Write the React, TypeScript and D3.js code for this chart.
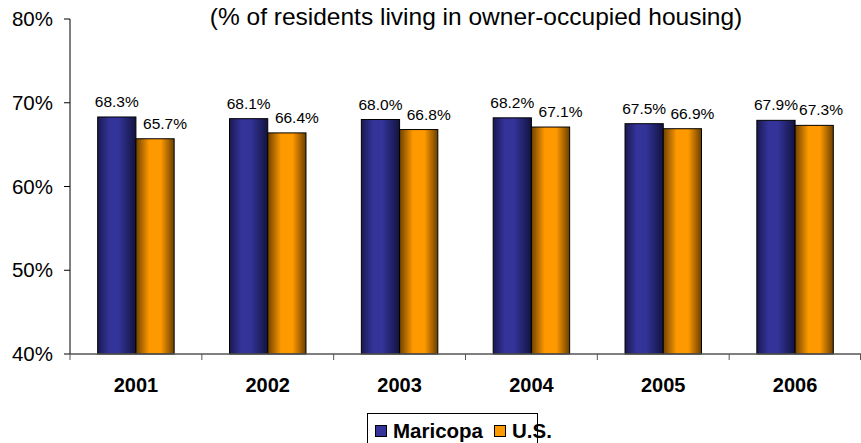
import React from "react";
import * as d3 from "d3";

const years = ["2001", "2002", "2003", "2004", "2005", "2006"];
const maricopa = [68.3, 68.1, 68.0, 68.2, 67.5, 67.9];
const us = [65.7, 66.4, 66.8, 67.1, 66.9, 67.3];
const seriesNames = ["Maricopa", "U.S."];
const yTicks = [40, 50, 60, 70, 80];
const title = "(% of residents living in owner-occupied housing)";

const W = 861;
const H = 443;
const FONT = "'Liberation Sans', Arial, Helvetica, sans-serif";

export default function App() {
  const left = 70;
  const right = 861;
  const top = 19;
  const bottom = 354;

  const x0 = d3.scaleBand<string>().domain(years).range([left, right]).paddingInner(0).paddingOuter(0);
  const y = d3.scaleLinear().domain([40, 80]).range([bottom, top]);

  const groupW = x0.bandwidth() * 0.58;
  const groupOff = (x0.bandwidth() - groupW) / 2;
  const barW = groupW / 2;

  const data = years.map((yr, i) => ({ yr, vals: [maricopa[i], us[i]] }));
  const fills = ["url(#gBlue)", "url(#gOrange)"];
  const legendColors = ["#333399", "#FF9900"];

  return (
    <svg width={W} height={H} style={{ position: "absolute", left: 0, top: 0, background: "#fff" }} fontFamily={FONT}>
      <defs>
        <linearGradient id="gBlue" x1="0" x2="1" y1="0" y2="0">
          <stop offset="0" stopColor="#1a1a50" />
          <stop offset="0.3" stopColor="#333399" />
          <stop offset="0.55" stopColor="#333399" />
          <stop offset="1" stopColor="#131340" />
        </linearGradient>
        <linearGradient id="gOrange" x1="0" x2="1" y1="0" y2="0">
          <stop offset="0" stopColor="#6e4200" />
          <stop offset="0.35" stopColor="#FF9900" />
          <stop offset="0.65" stopColor="#FF9900" />
          <stop offset="1" stopColor="#6a3f00" />
        </linearGradient>
      </defs>

      <text x={476} y={25} textAnchor="middle" fontSize={24.5} fill="#000">{title}</text>

      {data.map((d) =>
        d.vals.map((v, s) => {
          const bx = (x0(d.yr) as number) + groupOff + s * barW;
          const by = y(v);
          const cx = bx + barW / 2;
          let lx = cx + (s === 1 ? 10 : 0);
          if (lx + 22 > 843) lx = 843 - 22;
          return (
            <g key={d.yr + s}>
              <rect x={bx} y={by} width={barW} height={bottom - by} fill={fills[s]} stroke="#000" strokeWidth={1} />
              <text x={lx} y={by - 10} textAnchor="middle" fontSize={15.5} fill="#000">{v.toFixed(1)}%</text>
            </g>
          );
        })
      )}

      {/* y axis */}
      <line x1={left} x2={left} y1={top} y2={bottom} stroke="#000" strokeWidth={1} />
      {yTicks.map((t) => (
        <g key={t}>
          <line x1={left - 6} x2={left} y1={y(t)} y2={y(t)} stroke="#000" />
          <text x={53} y={y(t) + 7} textAnchor="end" fontSize={20.5} fill="#000">{t}%</text>
        </g>
      ))}

      {/* x axis */}
      <line x1={left} x2={right} y1={bottom} y2={bottom} stroke="#555" strokeWidth={1.5} />
      {years.map((yr) => (
        <line key={"t" + yr} x1={(x0(yr) as number)} x2={(x0(yr) as number)} y1={bottom} y2={bottom + 6} stroke="#555" />
      ))}
      <line x1={right - 0.5} x2={right - 0.5} y1={bottom} y2={bottom + 6} stroke="#555" />
      {years.map((yr) => (
        <text key={"l" + yr} x={(x0(yr) as number) + x0.bandwidth() / 2} y={392} textAnchor="middle" fontSize={20} fontWeight="bold" fill="#000">{yr}</text>
      ))}

      {/* legend */}
      <rect x={367.5} y={413.5} width={170} height={40} fill="#fff" stroke="#000" />
      {seriesNames.map((n, i) => {
        const lx = i === 0 ? 375 : 494;
        return (
          <g key={n}>
            <rect x={lx + 0.5} y={425.5} width={11} height={11} fill={legendColors[i]} stroke="#000" />
            <text x={lx + 18} y={437.5} fontSize={20.5} fontWeight="bold" fill="#000">{n}</text>
          </g>
        );
      })}
    </svg>
  );
}
